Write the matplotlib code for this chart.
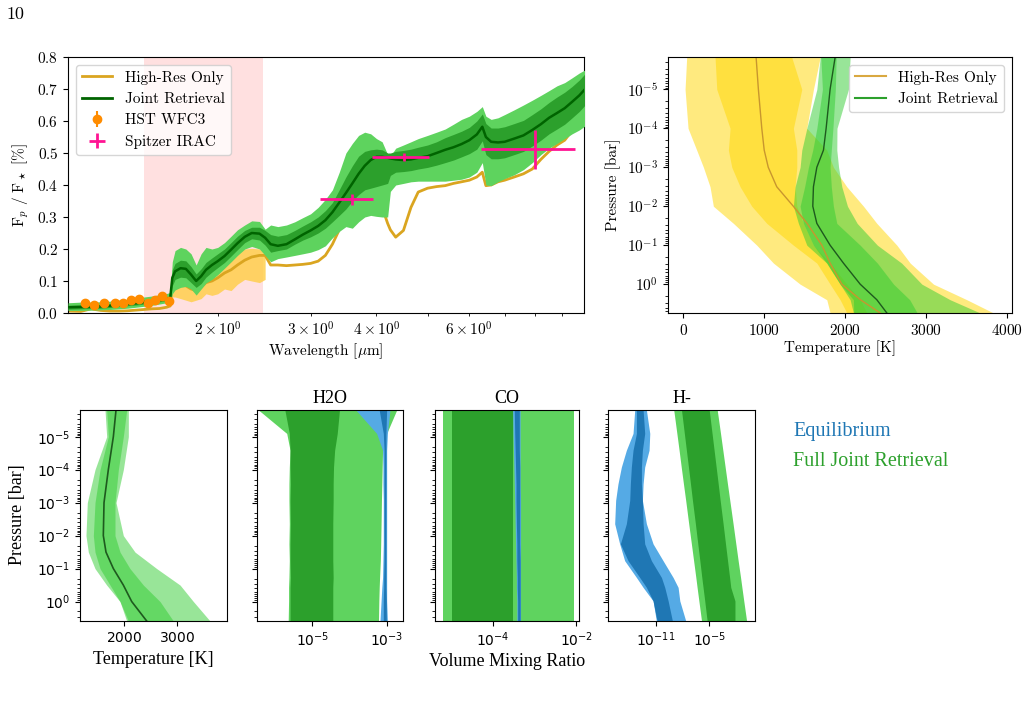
import numpy as np
import matplotlib
matplotlib.use('Agg')
import matplotlib.pyplot as plt
from matplotlib.lines import Line2D
from matplotlib.ticker import NullLocator

plt.rcParams['font.family'] = ['cmr10']
plt.rcParams['mathtext.fontset'] = 'cm'
plt.rcParams['axes.formatter.use_mathtext'] = True
plt.rcParams['axes.unicode_minus'] = False
plt.rcParams['font.size'] = 11

# ---------------- Emission spectrum data ----------------
wl = [1.04, 1.10, 1.15, 1.20, 1.25, 1.30, 1.35, 1.40, 1.45, 1.50, 1.55, 1.60, 1.625,
      1.64, 1.66, 1.70, 1.74, 1.78, 1.82, 1.86, 1.90, 1.95, 2.00, 2.06, 2.12, 2.18, 2.25, 2.32, 2.40, 2.46,
      2.52, 2.60, 2.70, 2.80, 2.90, 3.00, 3.10, 3.20, 3.30, 3.40, 3.50, 3.60, 3.70, 3.80, 3.90, 4.00, 4.10, 4.20, 4.25,
      4.35, 4.50, 4.65, 4.80, 5.00, 5.20, 5.40, 5.60, 5.80, 6.00, 6.20, 6.35, 6.45, 6.60, 6.80, 7.00, 7.30, 7.60,
      7.90, 8.20, 8.50, 8.80, 9.10, 9.40, 9.70, 9.95]

joint_med = [0.018, 0.019, 0.020, 0.021, 0.023, 0.026, 0.029, 0.031, 0.034, 0.037, 0.041, 0.045, 0.047,
             0.110, 0.130, 0.140, 0.138, 0.120, 0.100, 0.115, 0.135, 0.150, 0.162, 0.178, 0.198, 0.218, 0.238, 0.250, 0.248, 0.235,
             0.215, 0.210, 0.215, 0.230, 0.245, 0.258, 0.272, 0.290, 0.315, 0.345, 0.375, 0.405, 0.435, 0.460, 0.478, 0.488, 0.488, 0.485, 0.483,
             0.480, 0.478, 0.480, 0.485, 0.490, 0.500, 0.510, 0.518, 0.528, 0.540, 0.558, 0.582, 0.550, 0.535, 0.533, 0.535, 0.545, 0.555,
             0.572, 0.590, 0.610, 0.625, 0.640, 0.660, 0.680, 0.700]
joint_lo1 = [0.012, 0.013, 0.014, 0.015, 0.017, 0.020, 0.023, 0.025, 0.028, 0.031, 0.035, 0.039, 0.041,
             0.085, 0.105, 0.112, 0.110, 0.095, 0.080, 0.092, 0.112, 0.128, 0.142, 0.158, 0.178, 0.198, 0.220, 0.232, 0.228, 0.212,
             0.190, 0.195, 0.200, 0.215, 0.228, 0.238, 0.250, 0.265, 0.285, 0.305, 0.325, 0.350, 0.370, 0.385, 0.390, 0.395, 0.400, 0.405, 0.430,
             0.440, 0.442, 0.445, 0.450, 0.455, 0.462, 0.470, 0.478, 0.488, 0.498, 0.512, 0.538, 0.495, 0.482, 0.482, 0.485, 0.495, 0.505,
             0.522, 0.540, 0.560, 0.575, 0.590, 0.610, 0.630, 0.650]
joint_hi1 = [0.024, 0.025, 0.026, 0.027, 0.029, 0.032, 0.035, 0.037, 0.040, 0.043, 0.047, 0.051, 0.053,
             0.135, 0.155, 0.165, 0.163, 0.145, 0.122, 0.138, 0.158, 0.172, 0.185, 0.200, 0.220, 0.240, 0.258, 0.268, 0.268, 0.258,
             0.245, 0.240, 0.245, 0.258, 0.272, 0.285, 0.300, 0.320, 0.345, 0.385, 0.425, 0.460, 0.490, 0.505, 0.510, 0.512, 0.510, 0.500, 0.500,
             0.505, 0.508, 0.512, 0.518, 0.525, 0.535, 0.548, 0.558, 0.568, 0.580, 0.600, 0.622, 0.592, 0.578, 0.578, 0.582, 0.592, 0.602,
             0.620, 0.638, 0.658, 0.675, 0.690, 0.708, 0.728, 0.748]
joint_lo2 = [0.008, 0.008, 0.009, 0.010, 0.011, 0.013, 0.015, 0.018, 0.021, 0.024, 0.028, 0.032, 0.034,
             0.060, 0.072, 0.080, 0.083, 0.075, 0.056, 0.075, 0.094, 0.105, 0.120, 0.140, 0.160, 0.180, 0.200, 0.208, 0.200, 0.180,
             0.160, 0.170, 0.175, 0.180, 0.185, 0.190, 0.198, 0.210, 0.235, 0.255, 0.270, 0.265, 0.285, 0.300, 0.305, 0.302, 0.300, 0.300, 0.380,
             0.400, 0.405, 0.410, 0.412, 0.412, 0.412, 0.412, 0.415, 0.418, 0.425, 0.440, 0.470, 0.400, 0.398, 0.410, 0.420, 0.432, 0.448,
             0.470, 0.495, 0.515, 0.530, 0.545, 0.560, 0.572, 0.585]
joint_hi2 = [0.032, 0.034, 0.034, 0.035, 0.037, 0.040, 0.043, 0.046, 0.050, 0.053, 0.057, 0.061, 0.064,
             0.160, 0.195, 0.205, 0.200, 0.185, 0.150, 0.185, 0.205, 0.200, 0.205, 0.220, 0.240, 0.260, 0.275, 0.288, 0.286, 0.262,
             0.275, 0.270, 0.275, 0.285, 0.298, 0.310, 0.330, 0.355, 0.385, 0.440, 0.500, 0.530, 0.555, 0.565, 0.560, 0.545, 0.535, 0.495, 0.490,
             0.515, 0.525, 0.535, 0.545, 0.555, 0.565, 0.575, 0.590, 0.605, 0.615, 0.630, 0.645, 0.615, 0.605, 0.610, 0.620, 0.635, 0.650,
             0.665, 0.680, 0.695, 0.710, 0.720, 0.735, 0.750, 0.760]
hires_med = [0.006, 0.005, 0.013, 0.008, 0.006, 0.006, 0.007, 0.009, 0.011, 0.013, 0.014, 0.018, 0.022,
             0.080, 0.085, 0.090, 0.085, 0.075, 0.070, 0.080, 0.095, 0.100, 0.110, 0.125, 0.135, 0.150, 0.165, 0.175, 0.180, 0.180,
             0.150, 0.150, 0.148, 0.150, 0.152, 0.155, 0.162, 0.180, 0.215, 0.260, 0.290, 0.315, 0.335, 0.360, 0.375, 0.380, 0.330, 0.280, 0.260,
             0.237, 0.258, 0.330, 0.378, 0.390, 0.395, 0.398, 0.405, 0.410, 0.415, 0.425, 0.440, 0.398, 0.400, 0.410, 0.415, 0.425, 0.435,
             0.450, 0.480, 0.505, 0.525, 0.540, 0.570, 0.590, 0.600]

gold_wl = [1.64, 1.66, 1.70, 1.74, 1.78, 1.82, 1.86, 1.90, 1.95, 2.00, 2.06, 2.12, 2.18, 2.25, 2.32, 2.40, 2.46]
gold_lo = [0.050, 0.050, 0.045, 0.040, 0.035, 0.040, 0.045, 0.060, 0.055, 0.060, 0.075, 0.070, 0.090, 0.105, 0.100, 0.095, 0.105]
gold_hi = [0.100, 0.110, 0.115, 0.110, 0.095, 0.090, 0.105, 0.125, 0.140, 0.155, 0.170, 0.185, 0.195, 0.200, 0.202, 0.200, 0.195]

hst_wl = [1.121, 1.166, 1.215, 1.277, 1.322, 1.368, 1.421, 1.472, 1.521, 1.571, 1.618]
hst_fp = [0.032, 0.025, 0.032, 0.032, 0.032, 0.040, 0.043, 0.030, 0.042, 0.053, 0.037]
hst_err = [0.004] * 11

spz_wl = [3.60, 4.51, 8.00]
spz_left = [3.13, 3.92, 6.32]
spz_right = [3.94, 5.03, 9.53]
spz_fp = [0.355, 0.488, 0.511]
spz_err = [0.018, 0.012, 0.060]

# ---------------- P-T profile (top right) ----------------
logP_top = [-5.82, -5.0, -4.0, -3.44, -3.0, -2.5, -2.0, -1.56, -1.0, -0.54, 0.0, 0.4, 0.74]
hr_T_med = [900, 928, 970, 1000, 1050, 1155, 1360, 1530, 1713, 1815, 1960, 2190, 2435]
hr_T_lo2 = [41, 21, 58, 165, 248, 330, 371, 619, 908, 1114, 1444, 1774, 1815]
hr_T_hi2 = [1692, 1609, 1527, 1774, 1856, 2022, 2228, 2393, 2641, 2806, 3094, 3507, 3837]
hr_T_lo1 = [392, 413, 578, 557, 599, 702, 846, 1032, 1361, 1651, 1815, 1939, 2022]
hr_T_hi1 = [1341, 1465, 1361, 1403, 1403, 1382, 1403, 1485, 1609, 1815, 2022, 2187, 2270]
jr_T_med = [1877, 1815, 1766, 1733, 1651, 1609, 1601, 1651, 1815, 1980, 2187, 2393, 2517]
jr_T_lo2 = [1692, 1651, 1527, 1465, 1444, 1382, 1361, 1423, 1527, 1774, 1939, 2063, 2104]
jr_T_hi2 = [2063, 2042, 1900, 1898, 1920, 1960, 2030, 2150, 2400, 2700, 2950, 3300, 3672]
jr_T_lo1 = [1700, 1720, 1651, 1600, 1547, 1500, 1444, 1485, 1609, 1774, 1939, 2104, 2107]
jr_T_hi1 = [1890, 1880, 1850, 1830, 1815, 1830, 1856, 1898, 2187, 2400, 2600, 2800, 2893]

# ---------------- Bottom row: joint retrieval profiles ----------------
logP_T = [-5.81, -5.0, -4.0, -3.0, -2.0, -1.5, -1.0, -0.5, 0.0, 0.59]
bT_med = [1850, 1800, 1706, 1625, 1612, 1662, 1800, 1987, 2144, 2425]
bT_lo1 = [1675, 1706, 1550, 1456, 1425, 1456, 1550, 1737, 1925, 2081]
bT_hi1 = [2050, 1987, 1894, 1831, 1831, 1925, 2112, 2362, 2675, 2925]
bT_lo2 = [1644, 1675, 1456, 1312, 1287, 1331, 1456, 1675, 1925, 2050]
bT_hi2 = [2081, 2081, 1987, 1850, 1987, 2206, 2612, 3050, 3300, 3612]

logP_X = [-5.81, -5.1, -4.59, -4.08, -3.57, -3.07, -2.36, -1.75, -1.24, -0.73, -0.43, -0.02, 0.59]
# H2O (log10 VMR)
h2o_fit_lo2 = [-6.45, -5.69, -5.60, -5.62, -5.63, -5.63, -5.62, -5.63, -5.62, -5.63, -5.64, -5.64, -5.65]
h2o_fit_hi2 = [-2.73, -3.00, -3.11, -3.12, -3.13, -3.14, -3.15, -3.16, -3.17, -3.19, -3.20, -3.21, -3.22]
h2o_fit_lo1 = [-5.74, -5.62, -5.60, -5.60, -5.59, -5.60, -5.59, -5.60, -5.60, -5.59, -5.60, -5.60, -5.60]
h2o_fit_hi1 = [-4.27, -4.33, -4.40, -4.43, -4.44, -4.44, -4.45, -4.45, -4.45, -4.44, -4.45, -4.45, -4.45]
h2o_eq_lo2 = [-3.83, -3.27, -3.11, -3.10, -3.10, -3.09, -3.09, -3.09, -3.10, -3.11, -3.13, -3.15, -3.18]
h2o_eq_hi2 = [-2.91, -2.98, -3.00, -3.00, -3.00, -3.00, -3.00, -3.00, -3.00, -3.00, -3.00, -3.00, -2.98]
h2o_eq_lo1 = [-3.20, -3.09, -3.07, -3.07, -3.07, -3.07, -3.07, -3.07, -3.07, -3.08, -3.08, -3.09, -3.09]
h2o_eq_hi1 = [-3.00, -3.02, -3.02, -3.02, -3.02, -3.02, -3.02, -3.02, -3.02, -3.02, -3.02, -3.01, -3.01]
# CO
co_fit_lo2 = [-5.19] * 13
co_fit_hi2 = [-2.06] * 13
co_fit_lo1 = [-4.98] * 13
co_fit_hi1 = [-3.52] * 13
co_eq_lo2 = [-3.52, -3.51, -3.50, -3.49, -3.48, -3.47, -3.46, -3.45, -3.44, -3.43, -3.43, -3.42, -3.42]
co_eq_hi2 = [-3.34, -3.34, -3.34, -3.34, -3.34, -3.33, -3.33, -3.33, -3.33, -3.33, -3.33, -3.33, -3.33]
co_eq_lo1 = [-3.48, -3.47, -3.46, -3.45, -3.44, -3.44, -3.43, -3.42, -3.42, -3.41, -3.41, -3.40, -3.40]
co_eq_hi1 = [-3.36, -3.36, -3.36, -3.35, -3.35, -3.35, -3.35, -3.35, -3.34, -3.34, -3.34, -3.34, -3.34]
# H-
hm_fit_lo2 = [-8.98, -8.63, -8.38, -8.14, -7.89, -7.64, -7.30, -7.00, -6.75, -6.50, -6.36, -6.16, -5.86]
hm_fit_hi2 = [-4.10, -3.73, -3.47, -3.21, -2.95, -2.69, -2.32, -2.01, -1.75, -1.48, -1.33, -1.12, -0.80]
hm_fit_lo1 = [-8.11, -7.79, -7.56, -7.33, -7.10, -6.88, -6.55, -6.28, -6.05, -5.83, -5.69, -5.50, -5.23]
hm_fit_hi1 = [-5.00, -4.68, -4.45, -4.22, -3.99, -3.77, -3.44, -3.17, -2.94, -2.71, -2.58, -2.11, -2.11]
hm_eq_lo2 = [-13.36, -13.55, -14.30, -14.86, -15.24, -15.50, -15.61, -15.05, -14.49, -13.17, -12.42, -11.30, -10.93]
hm_eq_hi2 = [-12.05, -11.67, -11.75, -12.24, -12.42, -12.50, -12.05, -11.30, -10.18, -9.05, -8.49, -8.30, -7.63]
hm_eq_lo1 = [-13.17, -13.17, -13.55, -13.74, -13.85, -13.92, -14.30, -14.97, -14.11, -12.80, -12.05, -11.30, -10.85]
hm_eq_hi1 = [-12.42, -12.24, -12.50, -12.61, -12.61, -12.50, -12.42, -12.24, -11.49, -10.36, -9.99, -9.61, -9.13]

# ---------------- Figure ----------------
W, H = 1026, 703
fig = plt.figure(figsize=(W / 100, H / 100), dpi=100)


def px_axes(l, t, r, b):
    return fig.add_axes([l / W, 1 - b / H, (r - l) / W, (b - t) / H])


fig.text(6 / W, 1 - 14 / H, '10', fontsize=13, va='center', ha='left')

# --- top-left: spectrum ---
ax1 = px_axes(68, 57, 584, 313)
ax1.axvspan(1.45, 2.44, color='red', alpha=0.12, lw=0, zorder=0)
ax1.fill_between(gold_wl, gold_lo, gold_hi, color='#ffcf4d', alpha=0.85, lw=0, zorder=1)
ax1.plot(wl, hires_med, color='goldenrod', lw=2, zorder=2)
ax1.fill_between(wl, joint_lo2, joint_hi2, color='#5ed35e', lw=0, zorder=3)
ax1.fill_between(wl, joint_lo1, joint_hi1, color='#2ca02c', lw=0, zorder=4)
ax1.plot(wl, joint_med, color='darkgreen', lw=1.8, zorder=5)
eb_hst = ax1.errorbar(hst_wl, hst_fp, yerr=hst_err, fmt='o', color='darkorange', ms=6, zorder=6)
spz_xerr = [np.array(spz_wl) - np.array(spz_left), np.array(spz_right) - np.array(spz_wl)]
eb_spz = ax1.errorbar(spz_wl, spz_fp, xerr=spz_xerr, yerr=spz_err, fmt='none', ecolor='deeppink',
                      elinewidth=2, zorder=7)
ax1.set_xscale('log')
ax1.set_xlim(1.04, 9.9)
ax1.set_ylim(0, 0.8)
ax1.set_xlabel(r'Wavelength [$\mu$m]', labelpad=2)
ax1.set_ylabel(r'F$_p$ / F$_\star$ $[\%]$')
h_hr = Line2D([], [], color='goldenrod', lw=2)
h_jr = Line2D([], [], color='darkgreen', lw=2)
ax1.legend([h_hr, h_jr, eb_hst, eb_spz], ['High-Res Only', 'Joint Retrieval', 'HST WFC3', 'Spitzer IRAC'],
           loc='upper left', fontsize=11)

# --- top-right: P-T ---
ax2 = px_axes(668, 57, 1012, 313)
P_top = 10 ** np.array(logP_top)
ax2.fill_betweenx(P_top, hr_T_lo2, hr_T_hi2, color='gold', alpha=0.5, lw=0)
ax2.fill_betweenx(P_top, hr_T_lo1, hr_T_hi1, color='gold', alpha=0.5, lw=0)
ax2.fill_betweenx(P_top, jr_T_lo2, jr_T_hi2, color='limegreen', alpha=0.5, lw=0)
ax2.fill_betweenx(P_top, jr_T_lo1, jr_T_hi1, color='limegreen', alpha=0.5, lw=0)
ax2.plot(hr_T_med, P_top, color='#c8962e', lw=1)
ax2.plot(jr_T_med, P_top, color='#1e5a1e', lw=1)
ax2.set_yscale('log')
ax2.set_ylim(10 ** 0.74, 10 ** -5.83)
ax2.set_xlim(-190, 4065)
ax2.set_xticks([0, 1000, 2000, 3000, 4000])
ax2.set_xlabel('Temperature [K]', labelpad=2)
ax2.set_ylabel('Pressure [bar]')
ax2.legend([Line2D([], [], color='#d9a840', lw=1.5), Line2D([], [], color='#2ca02c', lw=1.5)],
           ['High-Res Only', 'Joint Retrieval'], loc='upper right', fontsize=11)

# --- bottom row ---
serif = 'Liberation Serif'
axT = px_axes(80, 410, 227, 621)
axW = px_axes(257, 410, 403, 621)
axC = px_axes(435, 410, 579, 621)
axH = px_axes(608, 410, 755, 621)

PT = 10 ** np.array(logP_T)
axT.fill_betweenx(PT, bT_lo2, bT_hi2, color='limegreen', alpha=0.5, lw=0)
axT.fill_betweenx(PT, bT_lo1, bT_hi1, color='limegreen', alpha=0.5, lw=0)
axT.plot(bT_med, PT, color='#1e5a1e', lw=1.2)
axT.set_xlim(1175, 3930)
axT.set_xticks([2000, 3000])

PX = 10 ** np.array(logP_X)
light_g, dark_g, light_b, dark_b = '#5fd35f', '#2ca02c', '#55aae5', '#1f77b4'


def species(ax, flo2, fhi2, flo1, fhi1, elo2, ehi2, elo1, ehi1):
    p = lambda v: 10 ** np.array(v)
    ax.fill_betweenx(PX, p(flo2), p(fhi2), color=light_g, lw=0)
    ax.fill_betweenx(PX, p(flo1), p(fhi1), color=dark_g, lw=0)
    ax.fill_betweenx(PX, p(elo2), p(ehi2), color=light_b, lw=0)
    ax.fill_betweenx(PX, p(elo1), p(ehi1), color=dark_b, lw=0)
    ax.set_xscale('log')


species(axW, h2o_fit_lo2, h2o_fit_hi2, h2o_fit_lo1, h2o_fit_hi1, h2o_eq_lo2, h2o_eq_hi2, h2o_eq_lo1, h2o_eq_hi1)
species(axC, co_fit_lo2, co_fit_hi2, co_fit_lo1, co_fit_hi1, co_eq_lo2, co_eq_hi2, co_eq_lo1, co_eq_hi1)
species(axH, hm_fit_lo2, hm_fit_hi2, hm_fit_lo1, hm_fit_hi1, hm_eq_lo2, hm_eq_hi2, hm_eq_lo1, hm_eq_hi1)
axW.set_xlim(10 ** -6.49, 10 ** -2.56)
axW.set_xticks([1e-5, 1e-3])
axC.set_xlim(10 ** -5.38, 10 ** -1.93)
axC.set_xticks([1e-4, 1e-2])
axH.set_xlim(10 ** -16.36, 10 ** 0.14)
axH.set_xticks([1e-11, 1e-5])
for ax, ttl in [(axW, 'H2O'), (axC, 'CO'), (axH, 'H-')]:
    ax.xaxis.set_minor_locator(NullLocator())
    ax.set_title(ttl, fontfamily=serif, fontsize=13, pad=5)

for ax in [axT, axW, axC, axH]:
    ax.set_yscale('log')
    ax.set_ylim(10 ** 0.59, 10 ** -5.81)
    ax.set_yticks([1e-5, 1e-4, 1e-3, 1e-2, 1e-1, 1e0])
    ax.tick_params(labelsize=10, labelfontfamily='DejaVu Sans')
    if ax is not axT:
        ax.tick_params(axis='y', labelleft=False)
    for lab in ax.get_xticklabels() + ax.get_yticklabels():
        lab.set_fontfamily('DejaVu Sans')
        lab.set_math_fontfamily('dejavusans')
        lab.set_fontsize(10)

fig.text(18 / W, 1 - 515 / H, 'Pressure [bar]', rotation=90, ha='center', va='center', fontfamily=serif, fontsize=13)
fig.text(153 / W, 1 - 660 / H, 'Temperature [K]', ha='center', va='center', fontfamily=serif, fontsize=13)
fig.text(507 / W, 1 - 662 / H, 'Volume Mixing Ratio', ha='center', va='center', fontfamily=serif, fontsize=13)
fig.text(793 / W, 1 - 431 / H, 'Equilibrium', ha='left', va='center', color='#1f77b4', fontfamily=serif, fontsize=14.5)
fig.text(793 / W, 1 - 461 / H, 'Full Joint Retrieval', ha='left', va='center', color='#2ca02c', fontfamily=serif,
         fontsize=14.5)

fig.savefig('out.png', dpi=100)
